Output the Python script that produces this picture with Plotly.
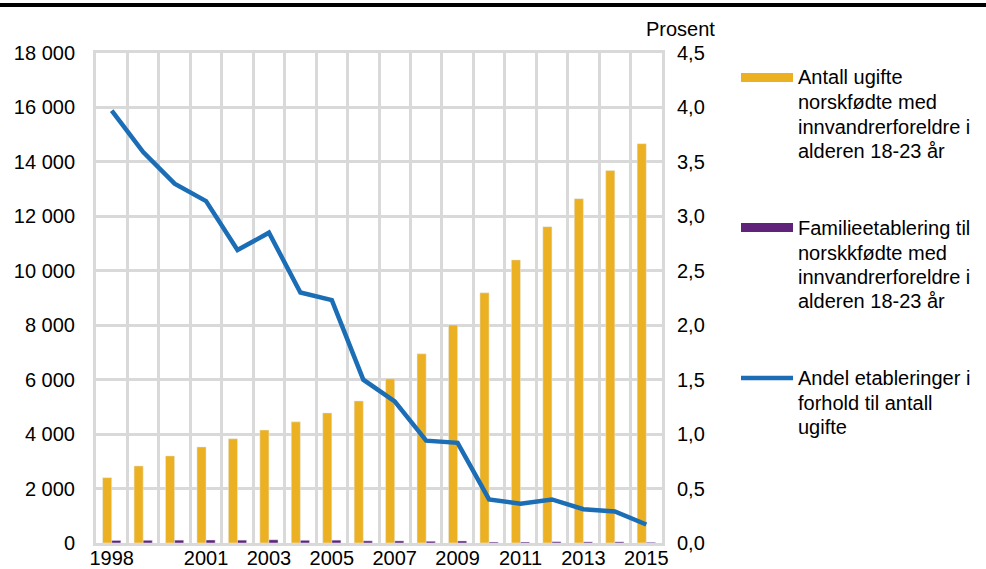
import plotly.graph_objects as go

years = list(range(1998, 2016))
ugifte = [2400, 2830, 3200, 3530, 3830, 4150, 4450, 4780, 5220, 6030,
          6950, 8010, 9190, 10400, 11620, 12650, 13680, 14670]
etablering = [95, 100, 105, 110, 105, 118, 100, 105, 80, 78,
              65, 75, 38, 38, 48, 42, 43, 28]
andel = [3.97, 3.59, 3.30, 3.14, 2.69, 2.85, 2.30, 2.23, 1.50, 1.30,
         0.94, 0.92, 0.40, 0.36, 0.40, 0.31, 0.29, 0.17]

x_tickvals = [1998, 2001, 2003, 2005, 2007, 2009, 2011, 2013, 2015]
y_tickvals = list(range(0, 18001, 2000))
y_ticktext = ["0"] + [f"{v // 1000} 000" for v in y_tickvals[1:]]
y2_tickvals = [i * 0.5 for i in range(10)]
y2_ticktext = [f"{v:.1f}".replace(".", ",") for v in y2_tickvals]

legend_lines = [
    ["Antall ugifte", "norskfødte med", "innvandrerforeldre i", "alderen 18-23 år"],
    ["Familieetablering til", "norskkfødte med", "innvandrerforeldre i", "alderen 18-23 år"],
    ["Andel etableringer i", "forhold til antall", "ugifte"],
]
names = [" ".join(l) for l in legend_lines]

YELLOW = "#EBB123"
PURPLE = "#5F2479"
BLUE = "#1B6DB6"
GRID = "#D9D9D9"
FONT = "Liberation Sans, Arial, sans-serif"
FS = 20

fig = go.Figure()
fig.add_trace(go.Bar(x=years, y=ugifte, marker_color=YELLOW, name=names[0],
                     yaxis="y", offsetgroup="a"))
fig.add_trace(go.Bar(x=years, y=etablering, marker_color=PURPLE, name=names[1],
                     yaxis="y", offsetgroup="b"))
fig.add_trace(go.Scatter(x=years, y=andel, mode="lines", line=dict(color=BLUE, width=4.5),
                         name=names[2], yaxis="y2"))

W, H = 986, 569
L, R, T, B = 96, 324, 53, 26
pw, ph = W - L - R, H - T - B

def px(x):
    return (x - L) / pw

def py(y):
    return (H - B - y) / ph

shapes = [
    dict(type="rect", xref="paper", yref="paper", x0=px(-2), x1=px(988), y0=py(7), y1=py(3),
         fillcolor="black", line=dict(width=0)),
    dict(type="rect", xref="paper", yref="paper", x0=px(741), x1=px(793), y0=py(82), y1=py(73),
         fillcolor=YELLOW, line=dict(width=0)),
    dict(type="rect", xref="paper", yref="paper", x0=px(741), x1=px(793), y0=py(232), y1=py(223),
         fillcolor=PURPLE, line=dict(width=0)),
    dict(type="line", xref="paper", yref="paper", x0=px(741), x1=px(793), y0=py(378), y1=py(378),
         line=dict(color=BLUE, width=4.5)),
]

annotations = [
    dict(text="Prosent", xref="paper", yref="paper", x=px(680), y=py(29), showarrow=False,
         xanchor="center", yanchor="middle", font=dict(size=FS, color="black", family=FONT)),
]
line_centers = [[77, 102, 127, 151], [228, 253, 277, 301], [378, 403, 427]]
for lines, centers in zip(legend_lines, line_centers):
    for txt, yc in zip(lines, centers):
        annotations.append(dict(text=txt, xref="paper", yref="paper", x=px(796), y=py(yc),
                                showarrow=False, xanchor="left", yanchor="middle", align="left",
                                font=dict(size=FS, color="black", family=FONT)))

fig.update_layout(
    width=W, height=H,
    margin=dict(l=L, r=R, t=T, b=B, pad=0),
    paper_bgcolor="white", plot_bgcolor="white",
    font=dict(family=FONT, size=FS, color="black"),
    showlegend=False,
    barmode="group", bargap=0.42, bargroupgap=0,
    xaxis=dict(range=[1997.5, 2015.5], tickmode="array", tickvals=x_tickvals,
               ticktext=[str(v) for v in x_tickvals], showgrid=False, zeroline=False,
               showline=True, linecolor=GRID, linewidth=3, mirror=True, ticks="",
               minor=dict(showgrid=True, tick0=1997.5, dtick=1, gridcolor=GRID, gridwidth=3),
               ticklabelstandoff=-5, tickfont=dict(size=FS), automargin=False),
    yaxis=dict(range=[0, 18000], tickmode="array", tickvals=y_tickvals, ticktext=y_ticktext,
               showgrid=True, gridcolor=GRID, gridwidth=3, zeroline=False,
               showline=True, linecolor=GRID, linewidth=3, mirror=True, ticks="",
               ticklabelstandoff=14, tickfont=dict(size=FS), automargin=False),
    yaxis2=dict(range=[0, 4.5], overlaying="y", side="right", tickmode="array",
                tickvals=y2_tickvals, ticktext=y2_ticktext, showgrid=False, zeroline=False,
                showline=False, ticks="", ticklabelstandoff=14, tickfont=dict(size=FS),
                automargin=False),
    shapes=shapes,
    annotations=annotations,
)

fig.write_html(
    "out.html",
    config={"displayModeBar": False},
    post_script="document.body.style.margin='0';document.body.style.overflow='hidden';",
)
